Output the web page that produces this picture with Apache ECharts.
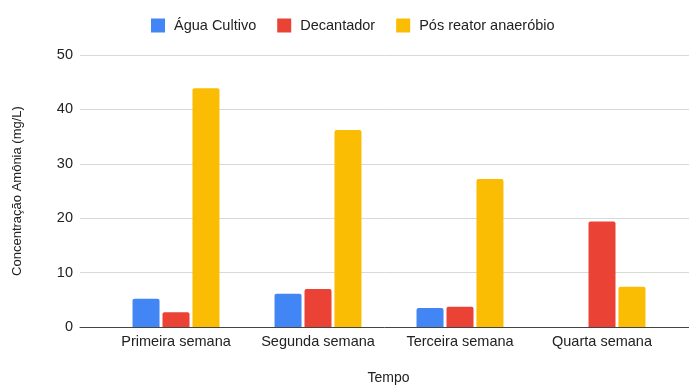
<!DOCTYPE html>
<html>
<head>
<meta charset="utf-8">
<script src="https://cdn.jsdelivr.net/npm/echarts@6/dist/echarts.min.js"></script>
<style>
  html, body { margin: 0; padding: 0; background: #fff; }
  #chart { width: 689px; height: 385px; }
</style>
</head>
<body>
<div id="chart"></div>
<script>
// Ammonia concentration per week, three sampling points
const weeks = ['Primeira semana', 'Segunda semana', 'Terceira semana', 'Quarta semana'];
const aguaCultivo = [5.2, 6.1, 3.5, 0];
const decantador = [2.7, 7.0, 3.7, 19.4];
const posReator = [43.9, 36.2, 27.2, 7.4];
const seriesNames = ['Água Cultivo', 'Decantador', 'Pós reator anaeróbio'];
const yTicks = { min: 0, max: 50, interval: 10 };

const FONT = 'Liberation Sans, Arial, sans-serif';
const TEXT = '#222';

const chart = echarts.init(document.getElementById('chart'), null, { renderer: 'canvas' });

const barBase = {
  type: 'bar',
  xAxisIndex: 1,
  yAxisIndex: 1,
  barWidth: 27,
  barGap: '11%'
};

chart.setOption({
  animation: false,
  textStyle: { fontFamily: FONT },
  legend: {
    top: 13,
    left: 146,
    icon: 'rect',
    itemWidth: 14,
    itemHeight: 14,
    itemGap: 21,
    textStyle: { fontSize: 14.5, color: TEXT, fontFamily: FONT, padding: [0, 0, 0, 4] },
    data: seriesNames
  },
  grid: [
    // frame grid: gridlines, y labels, baseline, axis titles
    { left: 80, right: 0, top: 55, bottom: 58, outerBoundsMode: 'none', containLabel: false },
    // bar grid: category band
    { left: 105, right: 16, top: 55, bottom: 58, outerBoundsMode: 'none', containLabel: false }
  ],
  xAxis: [
    {
      gridIndex: 0,
      type: 'category',
      data: [''],
      axisLine: { show: true, lineStyle: { color: '#444', width: 1 } },
      axisTick: { show: false },
      axisLabel: { show: false },
      name: 'Tempo',
      nameLocation: 'middle',
      nameGap: 44,
      nameTextStyle: { fontSize: 14, color: TEXT, fontFamily: FONT, padding: [0, 0, 0, 8] }
    },
    {
      gridIndex: 1,
      type: 'category',
      data: weeks,
      axisLine: { show: false },
      axisTick: { show: false },
      axisLabel: { interval: 0, hideOverlap: false, fontSize: 14.5, color: TEXT, margin: 7, fontFamily: FONT }
    }
  ],
  yAxis: [
    {
      gridIndex: 0,
      type: 'value',
      min: yTicks.min,
      max: yTicks.max,
      interval: yTicks.interval,
      axisLine: { show: false },
      axisTick: { show: false },
      axisLabel: { fontSize: 14.5, color: TEXT, margin: 7, fontFamily: FONT },
      splitLine: { lineStyle: { color: '#d9d9d9', width: 1 } },
      name: 'Concentração Amônia (mg/L)',
      nameLocation: 'middle',
      nameRotate: 90,
      nameGap: 56,
      nameTextStyle: { fontSize: 13, color: TEXT, fontFamily: FONT }
    },
    {
      gridIndex: 1,
      type: 'value',
      min: yTicks.min,
      max: yTicks.max,
      interval: yTicks.interval,
      show: false
    }
  ],
  series: [
    Object.assign({}, barBase, { name: seriesNames[0], data: aguaCultivo, itemStyle: { color: '#4285F4', borderRadius: [2, 2, 0, 0] } }),
    Object.assign({}, barBase, { name: seriesNames[1], data: decantador, itemStyle: { color: '#EA4335', borderRadius: [2, 2, 0, 0] } }),
    Object.assign({}, barBase, { name: seriesNames[2], data: posReator, itemStyle: { color: '#FBBC04', borderRadius: [2, 2, 0, 0] } })
  ]
});
</script>
</body>
</html>
